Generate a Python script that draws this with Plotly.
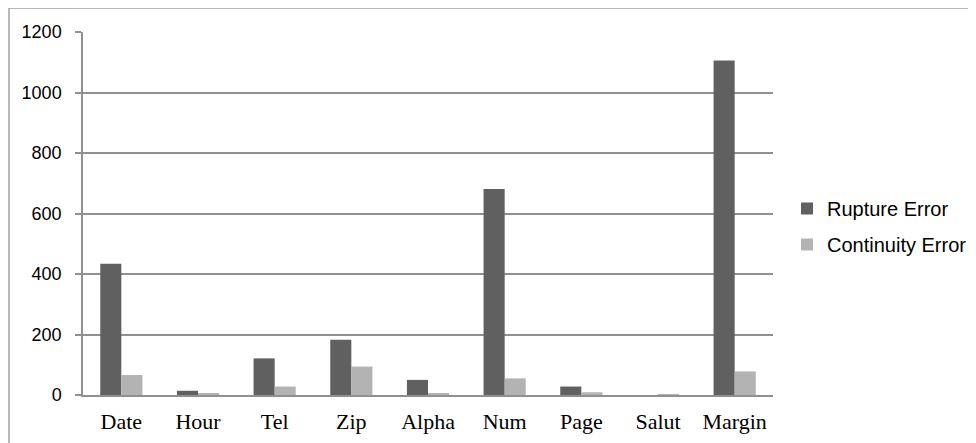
import plotly.graph_objects as go

categories = ["Date", "Hour", "Tel", "Zip", "Alpha", "Num", "Page", "Salut", "Margin"]
rupture_error = [434, 14, 121, 183, 50, 681, 28, 0, 1106]
continuity_error = [66, 4, 28, 94, 4, 55, 9, 3, 78]
y_ticks = [0, 200, 400, 600, 800, 1000, 1200]

OFF = 8  # page body offset
W, H = 976, 443
L, T = 83 - OFF, 32 - OFF
R = W - (773 - OFF)
B = H - (395 - OFF)
pw, ph = W - L - R, H - T - B

def px_x(x):
    return (x - OFF - L) / pw

def px_y(y):
    return 1 - (y - OFF - T) / ph

fig = go.Figure()
fig.add_trace(go.Bar(x=categories, y=rupture_error, name="Rupture Error", legendgroup="r",
                     marker=dict(color="#606060", line=dict(width=0))))
fig.add_trace(go.Bar(x=categories, y=continuity_error, name="Continuity Error", legendgroup="c",
                     marker=dict(color="#b3b3b3", line=dict(width=0))))

fig.add_shape(type="line", xref="paper", yref="paper", x0=px_x(9), x1=px_x(990), y0=px_y(8), y1=px_y(8),
              line=dict(color="#a0a0a0", width=1.5))
fig.add_shape(type="line", xref="paper", yref="paper", x0=px_x(9), x1=px_x(9), y0=px_y(8), y1=px_y(460),
              line=dict(color="#a0a0a0", width=1.5))

fig.update_layout(
    width=W, height=H,
    margin=dict(l=L, r=R, t=T, b=B, pad=0),
    paper_bgcolor="white", plot_bgcolor="white",
    barmode="group", bargap=0.45, bargroupgap=0,
    showlegend=True,
    legend=dict(x=px_x(787), y=px_y(189), xanchor="left", yanchor="top",
                font=dict(family="Liberation Sans", size=20, color="#000"),
                tracegroupgap=7, itemwidth=30, bgcolor="rgba(0,0,0,0)"),
    xaxis=dict(showgrid=False, showline=True, linecolor="#909090", linewidth=1.5,
               ticks="", tickfont=dict(family="Liberation Serif", size=22, color="#000"),
               ticklabelstandoff=6, fixedrange=True),
    yaxis=dict(range=[0, 1200], tickvals=y_ticks, showgrid=True, gridcolor="#909090", gridwidth=1.5,
               showline=True, linecolor="#909090", linewidth=1.5,
               ticks="outside", ticklen=6, tickcolor="#909090", tickwidth=1.5,
               tickfont=dict(family="Liberation Sans", size=18, color="#000"),
               ticklabelstandoff=10, zeroline=False, fixedrange=True),
)

fig.write_html("out.html")
